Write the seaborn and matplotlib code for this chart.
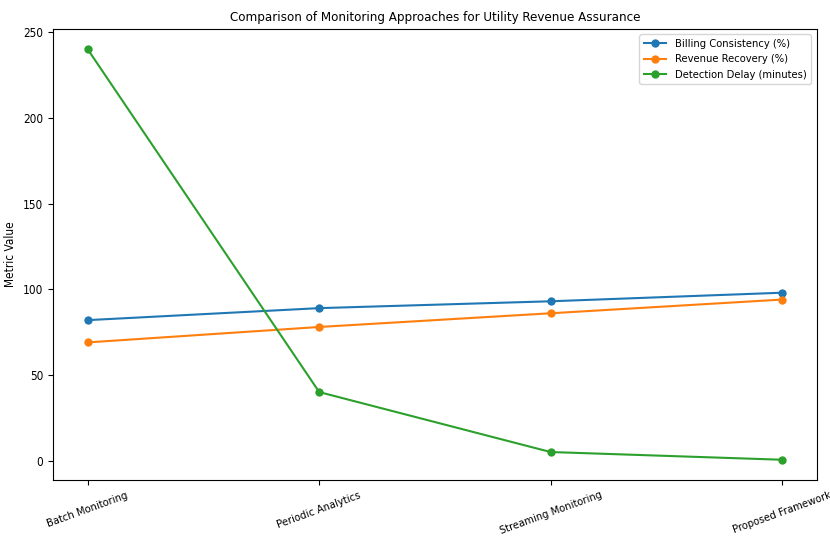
import pandas as pd
import numpy as np
import matplotlib
matplotlib.use('Agg')
import matplotlib.pyplot as plt
import seaborn as sns

approaches = ['Batch Monitoring', 'Periodic Analytics', 'Streaming Monitoring', 'Proposed Framework']
billing_consistency = [82, 89, 93, 98]
revenue_recovery = [69, 78, 86, 94]
detection_delay = [240, 40, 5, 0.5]

series_names = ['Billing Consistency (%)', 'Revenue Recovery (%)', 'Detection Delay (minutes)']

df = pd.DataFrame({
    'Approach': approaches * 3,
    'Value': billing_consistency + revenue_recovery + detection_delay,
    'Metric': [series_names[0]] * 4 + [series_names[1]] * 4 + [series_names[2]] * 4,
})

plt.rcParams['font.family'] = 'DejaVu Sans'
plt.rcParams['font.stretch'] = 'condensed'
plt.rcParams['font.size'] = 8.5

fig, ax = plt.subplots(figsize=(8.3, 5.36), dpi=100)
sns.lineplot(data=df, x='Approach', y='Value', hue='Metric', marker='o',
             markersize=6, markeredgewidth=0, linewidth=1.5, sort=False,
             palette=['#1f77b4', '#ff7f0e', '#2ca02c'], ax=ax)

ax.set_title('Comparison of Monitoring Approaches for Utility Revenue Assurance', fontsize=9.5)
ax.set_ylabel('Metric Value')
ax.set_xlabel('')
ax.set_xlim(-0.15, 3.15)
plt.setp(ax.get_xticklabels(), rotation=20, fontsize=8)
ax.legend(title=None, loc='upper right', fontsize=8)

fig.subplots_adjust(left=0.064, right=0.984, top=0.946, bottom=0.104)
fig.savefig('out.png', dpi=100)
